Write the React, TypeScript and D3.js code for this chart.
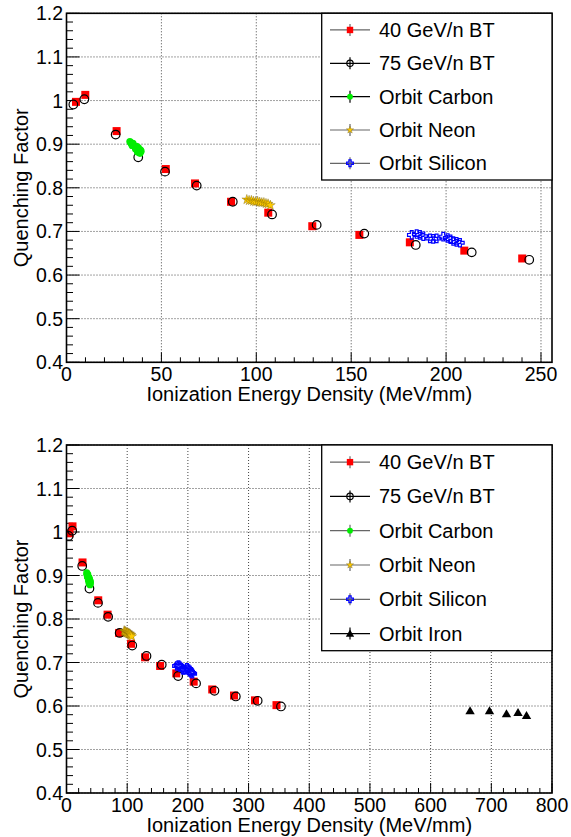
import React from "react";
import * as d3 from "d3";

// ---- data ----
const bt40X = [5.0, 9.9, 26.4, 52.3, 67.7, 86.7, 106.3, 129.5, 154.3, 180.9, 209.6, 240.1, 276.0, 310.6, 346.0];
const bt40Y = [0.997, 1.013, 0.93, 0.843, 0.81, 0.768, 0.743, 0.712, 0.692, 0.675, 0.656, 0.638, 0.624, 0.613, 0.602];
const bt75X = [3.6, 9.4, 25.9, 37.8, 51.9, 68.6, 87.6, 108.3, 131.8, 156.9, 184.0, 213.5, 243.8, 279.0, 315.0, 353.4];
const bt75Y = [0.991, 1.003, 0.922, 0.87, 0.837, 0.805, 0.768, 0.739, 0.715, 0.695, 0.669, 0.652, 0.635, 0.622, 0.612, 0.599];
const carbonX = [33.4, 33.9, 34.3, 34.8, 35.2, 35.6, 36.0, 36.3, 36.7, 37.0, 37.3, 37.6, 37.9, 38.2, 38.5, 38.7, 36.9, 37.8, 35.0, 34.6, 36.4, 38.9, 39.3, 37.4];
const carbonY = [0.906, 0.903, 0.901, 0.899, 0.897, 0.896, 0.894, 0.893, 0.891, 0.889, 0.888, 0.886, 0.885, 0.883, 0.881, 0.879, 0.895, 0.892, 0.902, 0.897, 0.889, 0.887, 0.884, 0.882];
const neonX = [95.0, 96.2, 97.4, 98.5, 99.6, 100.7, 101.8, 102.9, 104.0, 105.1, 106.2, 107.4];
const neonY = [0.773, 0.771, 0.771, 0.769, 0.768, 0.769, 0.767, 0.766, 0.766, 0.764, 0.763, 0.76];
const siliconX = [181.9, 184.5, 186.2, 188.0, 191.5, 193.2, 195.0, 198.5, 200.8, 202.3, 203.8, 205.5, 207.3];
const siliconY = [0.692, 0.694, 0.692, 0.689, 0.684, 0.683, 0.684, 0.688, 0.685, 0.682, 0.678, 0.676, 0.674];
const ironX = [665, 697, 725, 744, 758];
const ironY = [0.589, 0.589, 0.582, 0.585, 0.578];

const legendTop = ["40 GeV/n BT", "75 GeV/n BT", "Orbit Carbon", "Orbit Neon", "Orbit Silicon"];
const legendBottom = ["40 GeV/n BT", "75 GeV/n BT", "Orbit Carbon", "Orbit Neon", "Orbit Silicon", "Orbit Iron"];
const yTicks = [0.4, 0.5, 0.6, 0.7, 0.8, 0.9, 1, 1.1, 1.2];
const yTickLabels = ["0.4", "0.5", "0.6", "0.7", "0.8", "0.9", "1", "1.1", "1.2"];
const xTicksTop = [0, 50, 100, 150, 200, 250];
const xTicksBottom = [0, 100, 200, 300, 400, 500, 600, 700, 800];

const FONT = "'Liberation Sans', Arial, Helvetica, sans-serif";
const L = 66.5;
const R = 552;

type Kind = "bt40" | "bt75" | "carbon" | "neon" | "silicon" | "iron";

function Marker({ kind, x, y, legend = false }: { kind: Kind; x: number; y: number; legend?: boolean }) {
  const s = legend ? 0.8 : 1;
  switch (kind) {
    case "bt40": {
      const h = 4 * s;
      return <rect x={x - h} y={y - h} width={2 * h} height={2 * h} fill="#ff0000" />;
    }
    case "bt75":
      return <circle cx={x} cy={y} r={legend ? 3.2 : 4.3} fill="none" stroke="#000" strokeWidth={1.2} />;
    case "carbon":
      return <circle cx={x} cy={y} r={3.6 * s} fill="#00ee00" />;
    case "neon":
      return (
        <path
          d={d3.symbol().type(d3.symbolStar).size(legend ? 16 : 30)() as string}
          transform={`translate(${x},${y})`}
          fill="#ffcc00"
          stroke="#6b5500"
          strokeWidth={0.35}
        />
      );
    case "silicon": {
      const a = 4.2 * s;
      const b = 1.4 * s;
      const d = `M${-b},${-a}H${b}V${-b}H${a}V${b}H${b}V${a}H${-b}V${b}H${-a}V${-b}H${-b}Z`;
      return <path d={d} transform={`translate(${x},${y})`} fill="none" stroke="#0000ff" strokeWidth={1.2} />;
    }
    case "iron":
      return (
        <path
          d={d3.symbol().type(d3.symbolTriangle).size(legend ? 30 : 38)() as string}
          transform={`translate(${x},${y + 0.8})`}
          fill="#000"
        />
      );
  }
  return null;
}

type Series = { kind: Kind; xs: number[]; ys: number[] };

function Panel({
  top,
  bottom,
  xMax,
  xTicks,
  minorStep,
  legend,
  legendKinds,
  legendLineColors,
  legendBottom: lb,
  series,
}: {
  top: number;
  bottom: number;
  xMax: number;
  xTicks: number[];
  minorStep: number;
  legend: string[];
  legendKinds: Kind[];
  legendLineColors: string[];
  legendBottom: number;
  series: Series[];
}) {
  const x = d3.scaleLinear().domain([0, xMax]).range([L, R]);
  const y = d3.scaleLinear().domain([0.4, 1.2]).range([bottom, top]);
  const minorX = d3.range(0, xMax + 1e-9, minorStep).filter((v) => !xTicks.some((t) => Math.abs(t - v) < 1e-6));
  const minorY = d3.range(0.4, 1.2001, 0.02).filter((v) => !yTicks.some((t) => Math.abs(t - v) < 1e-6));
  const clipId = `clip-${Math.round(top)}`;
  const legTop = top;
  const legLeft = 321.7;
  const rowH = (lb - legTop) / legend.length;
  return (
    <g>
      <defs>
        <clipPath id={clipId}>
          <rect x={L} y={top} width={R - L} height={bottom - top} />
        </clipPath>
      </defs>
      {/* grid */}
      {xTicks.map((t) => (
        <line key={"gx" + t} x1={x(t)} x2={x(t)} y1={top} y2={bottom} stroke="#444" strokeWidth={1} strokeDasharray="1,2" />
      ))}
      {yTicks.map((t) => (
        <line key={"gy" + t} x1={L} x2={R} y1={y(t)} y2={y(t)} stroke="#444" strokeWidth={1} strokeDasharray="1,2" />
      ))}
      {/* ticks */}
      {xTicks.map((t) => (
        <line key={"tx" + t} x1={x(t)} x2={x(t)} y1={bottom} y2={bottom - 10} stroke="#000" strokeWidth={1} />
      ))}
      {minorX.map((t) => (
        <line key={"mx" + t} x1={x(t)} x2={x(t)} y1={bottom} y2={bottom - 5} stroke="#000" strokeWidth={1} />
      ))}
      {yTicks.map((t) => (
        <line key={"ty" + t} x1={L} x2={L + 13} y1={y(t)} y2={y(t)} stroke="#000" strokeWidth={1} />
      ))}
      {minorY.map((t) => (
        <line key={"my" + t} x1={L} x2={L + 6.5} y1={y(t)} y2={y(t)} stroke="#000" strokeWidth={1} />
      ))}
      {/* data */}
      <g clipPath={`url(#${clipId})`}>
        {series.map((s) =>
          s.xs.map((xv, i) => <Marker key={s.kind + i} kind={s.kind} x={x(xv)} y={y(s.ys[i])} />)
        )}
      </g>
      {/* frame */}
      <rect x={L} y={top} width={R - L} height={bottom - top} fill="none" stroke="#000" strokeWidth={1.6} />
      {/* tick labels */}
      {xTicks.map((t) => (
        <text key={"lx" + t} x={x(t)} y={bottom + 19} textAnchor="middle" fontSize={19.5} fontFamily={FONT}>
          {String(t)}
        </text>
      ))}
      {yTicks.map((t, i) => (
        <text key={"ly" + t} x={L - 3.5} y={y(t) + 7} textAnchor="end" fontSize={19.5} fontFamily={FONT}>
          {yTickLabels[i]}
        </text>
      ))}
      {/* titles */}
      <text x={(L + R) / 2} y={bottom + 39} textAnchor="middle" fontSize={20} fontFamily={FONT}>
        Ionization Energy Density (MeV/mm)
      </text>
      <text
        transform={`translate(27.5,${(top + bottom) / 2}) rotate(-90)`}
        textAnchor="middle"
        fontSize={20}
        fontFamily={FONT}
      >
        Quenching Factor
      </text>
      {/* legend */}
      <rect x={legLeft} y={legTop} width={R - legLeft} height={lb - legTop} fill="#fff" stroke="#000" strokeWidth={1.3} />
      {legend.map((name, i) => {
        const cy = legTop + rowH * (i + 0.5);
        const mx = 350;
        return (
          <g key={"leg" + i}>
            <line x1={330} x2={370} y1={cy} y2={cy} stroke={legendLineColors[i]} strokeWidth={1.2} />
            <line x1={mx} x2={mx} y1={cy - 6} y2={cy + 6} stroke={legendLineColors[i]} strokeWidth={1.2} />
            <Marker kind={legendKinds[i]} x={mx} y={cy} legend />
            <text x={379} y={cy + 7} fontSize={20} fontFamily={FONT}>
              {name}
            </text>
          </g>
        );
      })}
    </g>
  );
}

export default function App() {
  const seriesTop: Series[] = [
    { kind: "bt40", xs: bt40X, ys: bt40Y },
    { kind: "bt75", xs: bt75X, ys: bt75Y },
    { kind: "carbon", xs: carbonX, ys: carbonY },
    { kind: "neon", xs: neonX, ys: neonY },
    { kind: "silicon", xs: siliconX, ys: siliconY },
  ];
  const seriesBottom: Series[] = [...seriesTop, { kind: "iron", xs: ironX, ys: ironY }];
  const gray = "#666";
  return (
    <svg
      width={571}
      height={837}
      style={{ position: "absolute", left: 0, top: 0, background: "#fff" }}
      viewBox="0 0 571 837"
    >
      <rect width={571} height={837} fill="#fff" />
      <Panel
        top={13.3}
        bottom={362.3}
        xMax={255.8}
        xTicks={xTicksTop}
        minorStep={10}
        legend={legendTop}
        legendKinds={["bt40", "bt75", "carbon", "neon", "silicon"]}
        legendLineColors={[gray, "#000", "#000", gray, gray]}
        legendBottom={180}
        series={seriesTop}
      />
      <Panel
        top={445}
        bottom={793}
        xMax={800}
        xTicks={xTicksBottom}
        minorStep={20}
        legend={legendBottom}
        legendKinds={["bt40", "bt75", "carbon", "neon", "silicon", "iron"]}
        legendLineColors={[gray, "#000", gray, gray, gray, "#000"]}
        legendBottom={650.7}
        series={seriesBottom}
      />
    </svg>
  );
}
